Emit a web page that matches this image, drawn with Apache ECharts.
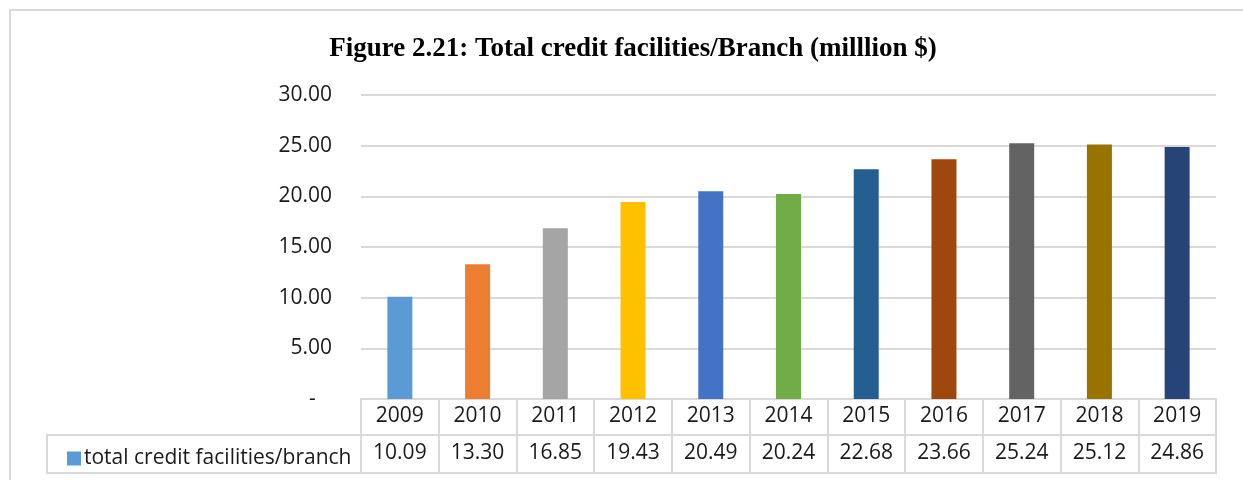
<!DOCTYPE html>
<html>
<head>
<meta charset="utf-8">
<script src="https://cdn.jsdelivr.net/npm/echarts@6/dist/echarts.min.js"></script>
<style>
  html, body { margin: 0; padding: 0; background: #fff; }
  #chartDiv { width: 1243px; height: 480px; }
</style>
</head>
<body>
<div id="chartDiv"></div>
<script>
// 年份
const years = ['2009', '2010', '2011', '2012', '2013', '2014', '2015', '2016', '2017', '2018', '2019']
// 每个网点的信贷总额
const creditPerBranch = [10.09, 13.30, 16.85, 19.43, 20.49, 20.24, 22.68, 23.66, 25.24, 25.12, 24.86]
// 柱子颜色
const barColors = ['#5B9BD5', '#ED7D31', '#A5A5A5', '#FFC000', '#4472C4', '#70AD47',
  '#255E91', '#9E480E', '#636363', '#997300', '#264478']
const yTicks = [0, 5, 10, 15, 20, 25, 30]
const seriesName = 'total credit facilities/branch'

const labelFont = 'Open Sans'
const labelSize = 21
const gridColor = '#d9d9d9'

const option = {
  animation: false,
  title: {
    text: 'Figure 2.21: Total credit facilities/Branch (milllion $)',
    left: 628,
    top: 31,
    textAlign: 'center',
    textStyle: {
      fontFamily: 'Liberation Serif',
      fontWeight: 'bold',
      fontSize: 27,
      color: '#000'
    }
  },
  legend: {
    left: 62,
    top: 443,
    itemWidth: 14,
    itemHeight: 14,
    itemGap: 0,
    icon: 'rect',
    textStyle: { fontFamily: labelFont, fontSize: labelSize, color: '#1a1a1a', padding: [0, 0, 0, -2] },
    data: [seriesName]
  },
  grid: { left: 361, right: 27, top: 95, bottom: 81 },
  xAxis: [
    {
      type: 'category',
      data: years,
      position: 'bottom',
      axisLine: { show: true, lineStyle: { color: gridColor, width: 2 } },
      axisTick: { show: true, length: 74, lineStyle: { color: gridColor, width: 2 } },
      axisLabel: { margin: 7, fontFamily: labelFont, fontSize: labelSize, color: '#1a1a1a' }
    },
    {
      type: 'category',
      data: creditPerBranch.map(v => v.toFixed(2)),
      position: 'bottom',
      offset: 36,
      axisLine: { show: true, lineStyle: { color: gridColor, width: 2 } },
      axisTick: { show: false },
      axisLabel: { margin: 8, fontFamily: labelFont, fontSize: labelSize, color: '#1a1a1a' }
    }
  ],
  yAxis: {
    type: 'value',
    min: yTicks[0],
    max: yTicks[yTicks.length - 1],
    interval: 5,
    axisLine: { show: false },
    axisTick: { show: false },
    splitLine: { lineStyle: { color: gridColor, width: 2 } },
    axisLabel: {
      margin: 29,
      fontFamily: labelFont,
      fontSize: labelSize,
      color: '#1a1a1a',
      formatter: v => (v === 0 ? '-   ' : v.toFixed(2))
    }
  },
  series: [
    {
      name: seriesName,
      type: 'bar',
      barWidth: 25,
      itemStyle: { color: barColors[0] },
      data: creditPerBranch.map((v, i) => ({ value: v, itemStyle: { color: barColors[i] } }))
    }
  ],
  graphic: [
    // 外框
    {
      type: 'rect', silent: true, z: -1,
      shape: { x: 10, y: 10, width: 1260, height: 500 },
      style: { fill: 'none', stroke: gridColor, lineWidth: 2 }
    },
    // 表格左侧格子
    {
      type: 'line', silent: true,
      shape: { x1: 47, y1: 435, x2: 361, y2: 435 },
      style: { stroke: gridColor, lineWidth: 2 }
    },
    {
      type: 'line', silent: true,
      shape: { x1: 47, y1: 473, x2: 1217, y2: 473 },
      style: { stroke: gridColor, lineWidth: 2 }
    },
    {
      type: 'line', silent: true,
      shape: { x1: 47, y1: 434, x2: 47, y2: 474 },
      style: { stroke: gridColor, lineWidth: 2 }
    }
  ]
}

const chart = echarts.init(document.getElementById('chartDiv'))
chart.setOption(option)
</script>
</body>
</html>
